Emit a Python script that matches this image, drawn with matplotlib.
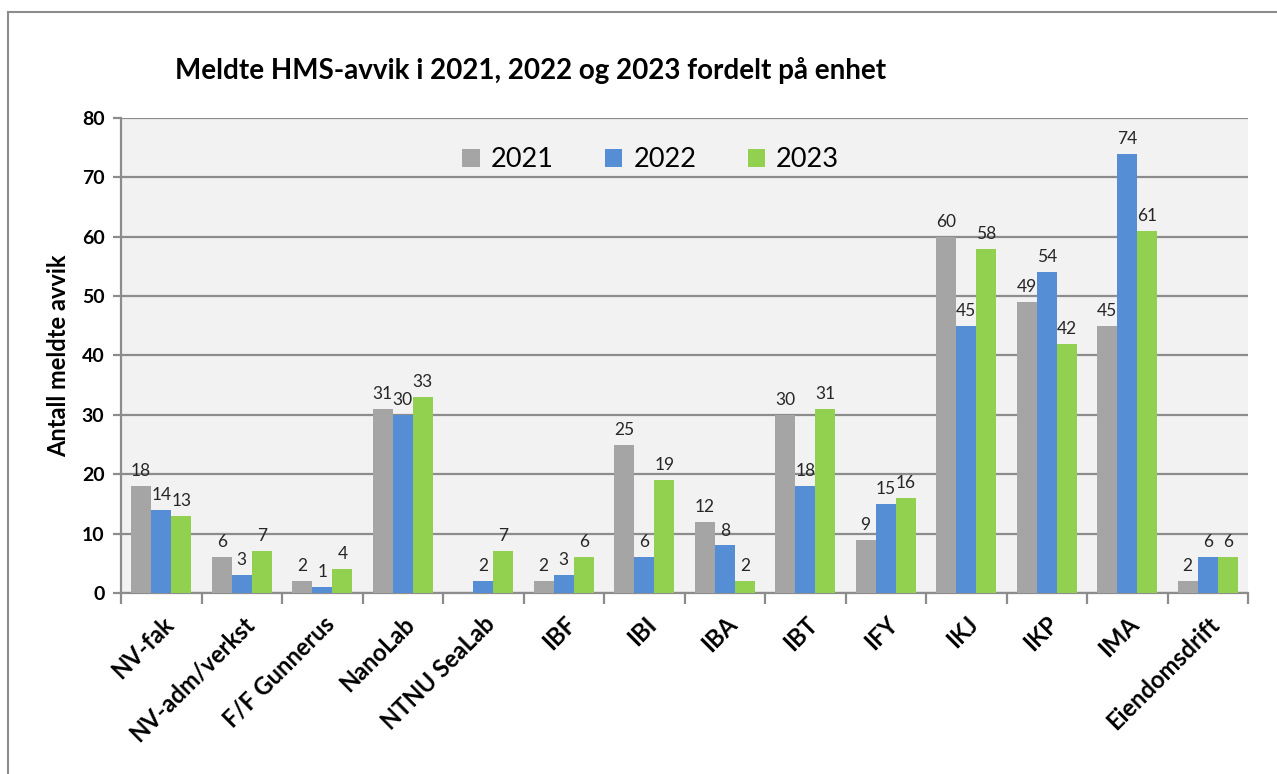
import numpy as np
import matplotlib.pyplot as plt
from matplotlib.lines import Line2D

# Data
enheter = ['NV-fak', 'NV-adm/verkst', 'F/F Gunnerus', 'NanoLab', 'NTNU SeaLab',
           'IBF', 'IBI', 'IBA', 'IBT', 'IFY', 'IKJ', 'IKP', 'IMA', 'Eiendomsdrift']
avvik_2021 = [18, 6, 2, 31, None, 2, 25, 12, 30, 9, 60, 49, 45, 2]
avvik_2022 = [14, 3, 1, 30, 2, 3, 6, 8, 18, 15, 45, 54, 74, 6]
avvik_2023 = [13, 7, 4, 33, 7, 6, 19, 2, 31, 16, 58, 42, 61, 6]
aar = ['2021', '2022', '2023']

farger = ['#A5A5A5', '#558ED5', '#92D050']
plt.rcParams['font.family'] = ['Lato', 'DejaVu Sans']

fig = plt.figure(figsize=(12.77, 7.74), dpi=100)
ax = fig.add_axes([0.0948, 0.2339, 0.8825, 0.6137])
ax.set_facecolor('#F2F2F2')

# ramme rundt figuren (bare venstre og topp synlig)
fig.add_artist(Line2D([0.0063, 0.0063], [0, 0.9845], transform=fig.transFigure,
                      color='#8C8C8C', lw=1.5))
fig.add_artist(Line2D([0.0063, 1.0], [0.9845, 0.9845], transform=fig.transFigure,
                      color='#8C8C8C', lw=1.5))

x = np.arange(len(enheter))
bredde = 0.25
serier = [avvik_2021, avvik_2022, avvik_2023]
for i, (verdier, farge, navn) in enumerate(zip(serier, farger, aar)):
    v = np.array([np.nan if a is None else a for a in verdier], dtype=float)
    pos = x + (i - 1) * bredde
    ax.bar(pos, np.nan_to_num(v), width=bredde, color=farge, label=navn, zorder=3)
    for p, val in zip(pos, v):
        if not np.isnan(val):
            ax.annotate(f'{int(val)}', (p, val), xytext=(0, 5), textcoords='offset points',
                        ha='center', va='bottom', fontsize=12.5, color='#262626', zorder=4)

ax.set_xlim(-0.5, len(enheter) - 0.5)
ax.set_ylim(0, 80)
ax.set_yticks(range(0, 81, 10))
ax.yaxis.grid(True, color='#8C8C8C', lw=1.6, zorder=1)
ax.set_axisbelow(True)

for s in ['top', 'right']:
    ax.spines[s].set_visible(False)
ax.spines['left'].set_color('#8C8C8C')
ax.spines['bottom'].set_color('#8C8C8C')
ax.spines['left'].set_linewidth(1.6)
ax.spines['bottom'].set_linewidth(1.6)

ax.tick_params(axis='y', length=6, width=1.6, color='#8C8C8C', labelsize=14, pad=6)
for t in ax.get_yticklabels():
    t.set_fontweight('bold')

# x-ticks mellom gruppene, etiketter på midten
ax.set_xticks(np.arange(-0.5, len(enheter), 1.0))
ax.set_xticklabels([])
ax.tick_params(axis='x', which='major', length=8, width=1.6, color='#8C8C8C')
ax.set_xticks(x, minor=True)
ax.set_xticklabels(enheter, minor=True, rotation=45, ha='right', rotation_mode='anchor',
                   fontsize=17, fontweight='bold')
ax.tick_params(axis='x', which='minor', length=0, pad=14)

ax.set_ylabel('Antall meldte avvik', fontsize=17, fontweight='bold', labelpad=8)

fig.text(0.137, 0.909, 'Meldte HMS-avvik i 2021, 2022 og 2023 fordelt på enhet',
         fontsize=20, fontweight='bold', ha='left', va='center')

ax.legend(loc='upper center', bbox_to_anchor=(0.47, 0.99), ncol=3, frameon=False,
          fontsize=19.5, handlelength=0.65, handleheight=0.65, columnspacing=1.9,
          handletextpad=0.4)

fig.savefig('out.png', dpi=100)
